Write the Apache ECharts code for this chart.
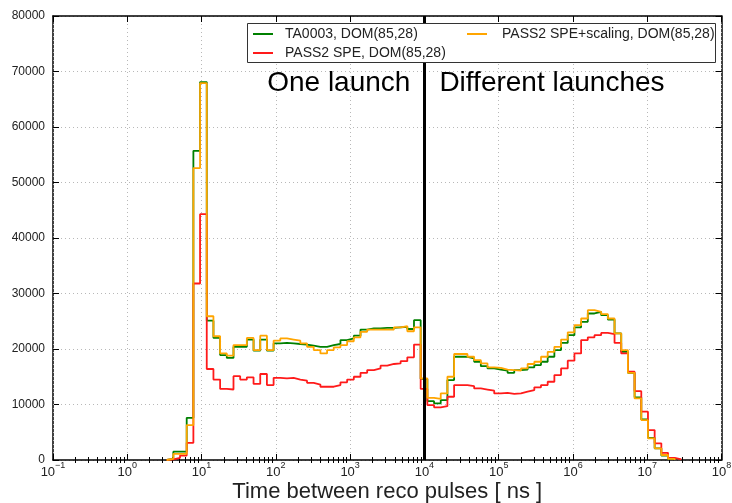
<!DOCTYPE html>
<html><head><meta charset="utf-8">
<script src="https://cdn.jsdelivr.net/npm/echarts@6/dist/echarts.min.js"></script>
<style>html,body{margin:0;padding:0;background:#fff}#c{width:732px;height:503px}</style>
</head><body><div id="c"></div>
<script>
// ---- data ----
const seriesNames = ['TA0003, DOM(85,28)', 'PASS2 SPE, DOM(85,28)', 'PASS2 SPE+scaling, DOM(85,28)'];
const seriesColors = ['#008000', '#ff1a1a', '#ffa500'];
// histogram binning: 100 log-spaced bins from 10^-1 to 10^8 ns
const logMin = -1, logMax = 8, nBins = 100;
const dividerX = 1e4;
const annotLeft = 'One launch';
const annotRight = 'Different launches';
const xTitle = 'Time between reco pulses [ ns ]';
const yTicks = [0, 10000, 20000, 30000, 40000, 50000, 60000, 70000, 80000];
const xDecades = [-1, 0, 1, 2, 3, 4, 5, 6, 7, 8];

const countsTA = [
  0,0,0,0,0,0,0,0,0,0, 0,0,0,0,0,0,0, 200,1500,1500,
  7600,55700,68100,25100,22000,18900,18400,20400,20400,21700,
  19700,21700,19700,21000,21100,21000,20900,20800,20600,20400,
  20400,20700,20900,21600,21900,22400,23500,23700,23700,23800,
  23800,23900,24000,23600,25200,14600,10600,10200,10800,14400,
  18600,18600,18300,17700,16900,16500,16300,16100,15700,16200,
  16300,16700,17100,17700,18600,19800,21100,22500,23900,24900,
  26400,26700,26100,25300,22800,19500,15700,11300,7300,4000,
  2100,800,200,0,0,0,0,0,0,0
];
const countsSPE = [
  0,0,0,0,0,0,0,0,0,0, 0,0,0,0,0,0,0, 100,400,800,
  3100,31800,44300,16400,14500,12800,12700,15100,14500,14900,
  13700,15500,13500,14800,14700,14800,14500,14300,13900,13600,
  13200,13200,13500,14000,14500,15000,15700,16200,16500,17000,
  17300,17400,17800,18500,20800,12800,9900,9500,9700,11400,
  13500,13500,13300,12900,12700,12500,12000,12100,11900,12000,
  12300,12600,13100,13500,14100,15300,16500,17900,19200,21600,
  22100,22500,22900,22700,21100,19200,15900,12400,8700,5400,
  3000,1300,400,100,0,0,0,0,0,0
];
const countsScaled = [
  0,0,0,0,0,0,0,0,0,0, 0,0,0,0,0,0,0, 200,1100,1100,
  6300,52600,67900,25900,22300,19200,18800,20700,20700,22000,
  19800,22400,19800,21500,21900,21700,21500,21000,20400,19800,
  19200,19800,20300,20700,21400,22100,23100,23500,23500,23500,
  23500,23900,24100,23200,23900,14700,11200,11000,12000,15000,
  19100,19100,18600,18000,17400,16700,16600,16300,16200,16100,
  16500,17300,17700,18600,19500,20400,21700,23000,24300,25500,
  27000,26700,26300,25500,22800,19800,15700,11100,7200,3900,
  2100,900,200,0,0,0,0,0,0,0
];
const allCounts = [countsTA, countsSPE, countsScaled];

// ---- helpers ----
const FONT = 'Liberation Sans';
const edges = [];
for (let k = 0; k <= nBins; k++) edges.push(Math.pow(10, logMin + k * (logMax - logMin) / nBins));

function stepOutline(counts) {
  let first = counts.findIndex(v => v > 0);
  let last = counts.length - 1;
  while (last > 0 && counts[last] === 0) last--;
  const pts = [[edges[first], 0]];
  for (let i = first; i <= last; i++) {
    pts.push([edges[i], counts[i]]);
    pts.push([edges[i + 1], counts[i]]);
  }
  pts.push([edges[last + 1], 0]);
  return pts;
}

const majorVals = xDecades.map(d => Math.pow(10, d));
const minorVals = [];
for (let d = logMin; d < logMax; d++) for (let m = 2; m <= 9; m++) minorVals.push(m * Math.pow(10, d));

const xMin = Math.pow(10, logMin), xMax = Math.pow(10, logMax);
const gridLine = {show: true, lineStyle: {color: '#b8b8b8', type: [1, 3], width: 1}};
const spine = {show: true, onZero: false, lineStyle: {color: '#000', width: 1.5}};

function xAx(pos, major, withLabels) {
  const a = {
    type: 'log', logBase: 10, min: xMin, max: xMax, position: pos,
    axisLine: major ? spine : {show: false},
    axisTick: {show: true, inside: true, length: major ? 6 : 3,
      customValues: major ? majorVals : minorVals,
      lineStyle: {color: '#000', width: 1}},
    axisLabel: {show: false},
    splitLine: (major && withLabels) ? gridLine : {show: false},
    z: 1
  };
  if (withLabels) {
    a.axisLabel = {
      show: true, customValues: majorVals, margin: 1,
      formatter: v => '{b|10}{s|' + String(Math.round(Math.log10(v))).replace('-', '\u2212') + '}',
      rich: {
        b: {fontSize: 13, fontFamily: FONT, color: '#222', verticalAlign: 'bottom', lineHeight: 18},
        s: {fontSize: 9, fontFamily: FONT, color: '#222', verticalAlign: 'top', lineHeight: 18}
      }
    };
    a.name = xTitle;
    a.nameLocation = 'middle';
    a.nameGap = 32;
    a.nameMoveOverlap = false;
    a.nameTextStyle = {fontSize: 22, fontFamily: FONT, color: '#222', verticalAlign: 'middle'};
  }
  return a;
}

const chart = echarts.init(document.getElementById('c'), null, {renderer: 'canvas'});
const series = allCounts.map((c, i) => ({
  name: seriesNames[i], type: 'line', data: stepOutline(c),
  xAxisIndex: 0, yAxisIndex: 0, symbol: 'none', showSymbol: false,
  lineStyle: {color: seriesColors[i], width: 1.8}, itemStyle: {color: seriesColors[i]},
  animation: false, silent: true, clip: true, z: 2 + i
}));
series[2].markLine = {
  silent: true, symbol: 'none', animation: false,
  label: {show: false},
  lineStyle: {color: '#000', width: 3, type: 'solid'},
  data: [{xAxis: dividerX}]
};

const legendText = {fontSize: 14, fontFamily: FONT, color: '#222', padding: [0, 0, 0, 7]};
chart.setOption({
  animation: false,
  backgroundColor: '#fff',
  grid: {left: 53, right: 10.5, top: 16, bottom: 43, containLabel: false, outerBoundsMode: 'none'},
  xAxis: [xAx('bottom', true, true), xAx('bottom', false, false), xAx('top', true, false), xAx('top', false, false)],
  yAxis: [
    {type: 'value', min: yTicks[0], max: yTicks[yTicks.length - 1], interval: yTicks[1] - yTicks[0],
     position: 'left', axisLine: spine,
     axisTick: {show: true, inside: true, length: 6, lineStyle: {color: '#000'}},
     axisLabel: {formatter: v => String(v), fontSize: 12, fontFamily: FONT, color: '#222', margin: 8},
     splitLine: gridLine},
    {type: 'value', min: yTicks[0], max: yTicks[yTicks.length - 1], interval: yTicks[1] - yTicks[0],
     position: 'right', axisLine: spine,
     axisTick: {show: true, inside: true, length: 6, lineStyle: {color: '#000'}},
     axisLabel: {show: false}, splitLine: {show: false}}
  ],
  legend: [
    {data: [seriesNames[0], seriesNames[1]], orient: 'vertical', left: 251, top: 25,
     itemWidth: 20, itemHeight: 2, icon: 'rect', itemGap: 5, textStyle: legendText, z: 20,
     padding: 2, selectedMode: false},
    {data: [seriesNames[2]], orient: 'vertical', left: 465, top: 25,
     itemWidth: 20, itemHeight: 2, icon: 'rect', itemGap: 5,
     textStyle: Object.assign({}, legendText, {padding: [0, 0, 0, 10]}), z: 20,
     padding: 2, selectedMode: false}
  ],
  series: series
});

const divPx = chart.convertToPixel({xAxisIndex: 0}, dividerX);
chart.setOption({
  graphic: [
    {type: 'rect', z: 15, shape: {x: 247.5, y: 23.5, width: 468, height: 39},
     style: {fill: '#fff', stroke: '#333', lineWidth: 1}},
    {type: 'text', z: 16, x: divPx - 14, y: 83,
     style: {text: annotLeft, fontSize: 28, fontFamily: FONT, fill: '#000', align: 'right', verticalAlign: 'middle'}},
    {type: 'text', z: 16, x: divPx + 15, y: 83,
     style: {text: annotRight, fontSize: 28, fontFamily: FONT, fill: '#000', align: 'left', verticalAlign: 'middle'}}
  ]
});
</script>
</body></html>
